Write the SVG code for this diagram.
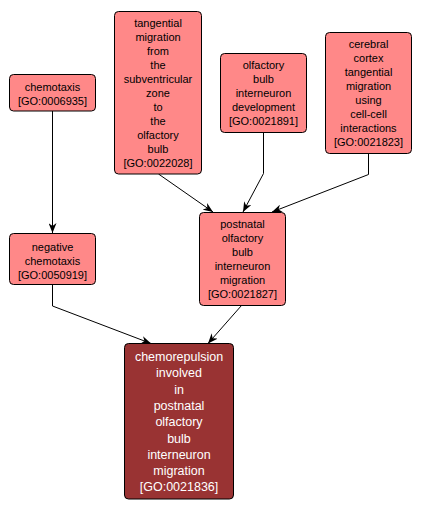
<svg xmlns="http://www.w3.org/2000/svg" width="422" height="512" viewBox="0 0 422 512">
<style>
.n rect{fill:#ff8888;stroke:#000;stroke-width:1}
.d rect{fill:#993333;stroke:#000;stroke-width:1}
.n text{font-family:"Liberation Sans",Arial,sans-serif;font-size:11px;fill:#000;text-anchor:middle}
.d text{font-family:"Liberation Sans",Arial,sans-serif;font-size:12.5px;fill:#fff;text-anchor:middle}
.e path{fill:none;stroke:#000;stroke-width:1;marker-end:url(#a)}
</style>
<defs>
<marker id="a" markerWidth="10" markerHeight="8" refX="10" refY="4" orient="auto" markerUnits="userSpaceOnUse">
<path d="M0,0 L10,4 L0,8 L3,4 z" fill="#000"/>
</marker>
</defs>
<rect width="422" height="512" fill="#fff"/>
<g class="e" id="edges">
<path d="M52.5,111 L52.5,233"/>
<path d="M158.5,174 L213,212"/>
<path d="M263.5,132.5 L263.5,173.5 L243,212"/>
<path d="M368.5,153.5 L368.5,174.5 L272,212"/>
<path d="M52.5,284.5 L52.5,306 L151,343.5"/>
<path d="M241.5,305.5 L208,343.5"/>
</g>
<g class="n" id="GO0006935">
<rect x="9.5" y="74.5" width="86" height="36.5" rx="4"/>
<text x="52.5" y="90.5">chemotaxis</text>
<text x="52.5" y="104.5">[GO:0006935]</text>
</g>
<g class="n" id="GO0022028">
<rect x="114.5" y="11.5" width="87" height="162.5" rx="4"/>
<text x="158" y="27.3">tangential</text>
<text x="158" y="41.3">migration</text>
<text x="158" y="55.3">from</text>
<text x="158" y="69.3">the</text>
<text x="158" y="83.3">subventricular</text>
<text x="158" y="97.3">zone</text>
<text x="158" y="111.3">to</text>
<text x="158" y="125.3">the</text>
<text x="158" y="139.3">olfactory</text>
<text x="158" y="153.3">bulb</text>
<text x="158" y="167.3">[GO:0022028]</text>
</g>
<g class="n" id="GO0021891">
<rect x="220.5" y="53.5" width="86" height="79" rx="4"/>
<text x="263.5" y="69">olfactory</text>
<text x="263.5" y="83">bulb</text>
<text x="263.5" y="97">interneuron</text>
<text x="263.5" y="111">development</text>
<text x="263.5" y="125">[GO:0021891]</text>
</g>
<g class="n" id="GO0021823">
<rect x="325.5" y="32.5" width="86" height="121" rx="4"/>
<text x="368.5" y="48">cerebral</text>
<text x="368.5" y="62">cortex</text>
<text x="368.5" y="76">tangential</text>
<text x="368.5" y="90">migration</text>
<text x="368.5" y="104">using</text>
<text x="368.5" y="118">cell-cell</text>
<text x="368.5" y="132">interactions</text>
<text x="368.5" y="146">[GO:0021823]</text>
</g>
<g class="n" id="GO0021827">
<rect x="199.5" y="212.5" width="86" height="93" rx="4"/>
<text x="242.5" y="228.3">postnatal</text>
<text x="242.5" y="242.3">olfactory</text>
<text x="242.5" y="256.3">bulb</text>
<text x="242.5" y="270.3">interneuron</text>
<text x="242.5" y="284.3">migration</text>
<text x="242.5" y="298.3">[GO:0021827]</text>
</g>
<g class="n" id="GO0050919">
<rect x="9.5" y="233.5" width="86" height="51" rx="4"/>
<text x="52.5" y="250.7">negative</text>
<text x="52.5" y="264.7">chemotaxis</text>
<text x="52.5" y="278.7">[GO:0050919]</text>
</g>
<g class="d" id="GO0021836">
<rect x="124.5" y="343.5" width="109" height="155.5" rx="4"/>
<text x="179" y="361">chemorepulsion</text>
<text x="179" y="377.3">involved</text>
<text x="179" y="393.6">in</text>
<text x="179" y="409.9">postnatal</text>
<text x="179" y="426.2">olfactory</text>
<text x="179" y="442.5">bulb</text>
<text x="179" y="458.8">interneuron</text>
<text x="179" y="475.1">migration</text>
<text x="179" y="491.4">[GO:0021836]</text>
</g>
</svg>
